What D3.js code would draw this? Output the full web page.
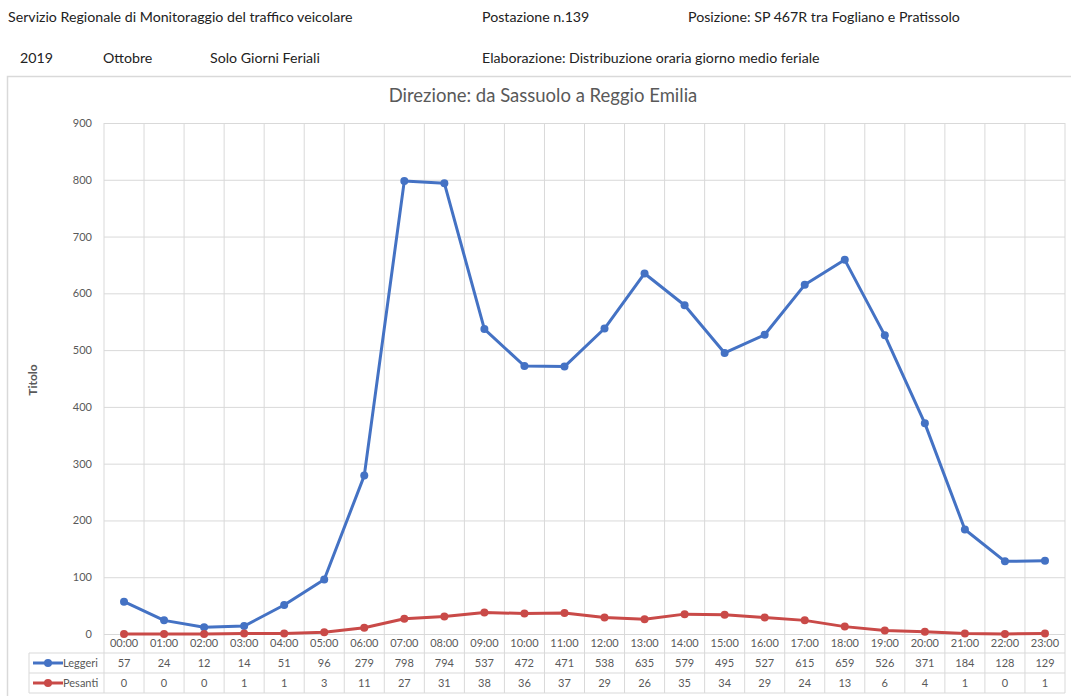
<!DOCTYPE html>
<html>
<head>
<meta charset="utf-8">
<script src="https://cdn.jsdelivr.net/npm/d3@7"></script>
<style>
  html, body { margin: 0; padding: 0; background: #ffffff; }
  svg { display: block; font-family: Lato, "Open Sans", sans-serif; }
</style>
</head>
<body>
<svg id="chart" width="1071" height="696"></svg>
<script>
// Hourly average weekday traffic, October 2019
const hours = ["00:00","01:00","02:00","03:00","04:00","05:00","06:00","07:00","08:00","09:00","10:00","11:00",
               "12:00","13:00","14:00","15:00","16:00","17:00","18:00","19:00","20:00","21:00","22:00","23:00"];
const leggeri = [57,24,12,14,51,96,279,798,794,537,472,471,538,635,579,495,527,615,659,526,371,184,128,129];
const pesanti = [0,0,0,1,1,3,11,27,31,38,36,37,29,26,35,34,29,24,13,6,4,1,0,1];
const yTicks = [0,100,200,300,400,500,600,700,800,900];

const seriesList = [
  { name: "Leggeri", values: leggeri, color: "#4472C4" },
  { name: "Pesanti", values: pesanti, color: "#C94A48" }
];

const svg = d3.select("#chart");
const textGrey = "#595959";
const gridGrey = "#d9d9d9";

// Page header lines
const header = [
  { t: "Servizio Regionale di Monitoraggio del traffico veicolare", x: 8, y: 22 },
  { t: "Postazione n.139", x: 482, y: 22 },
  { t: "Posizione: SP 467R tra Fogliano e Pratissolo", x: 688, y: 22 },
  { t: "2019", x: 20, y: 63 },
  { t: "Ottobre", x: 103, y: 63 },
  { t: "Solo Giorni Feriali", x: 210, y: 63 },
  { t: "Elaborazione: Distribuzione oraria giorno medio feriale", x: 482, y: 63 }
];
svg.append("g").selectAll("text").data(header).join("text")
  .attr("x", d => d.x).attr("y", d => d.y)
  .attr("font-size", 14.2).attr("fill", "#222")
  .text(d => d.t);

// Chart frame
svg.append("rect")
  .attr("x", 7.5).attr("y", 76.5).attr("width", 1080).attr("height", 640)
  .attr("fill", "none").attr("stroke", "#d9d9d9").attr("stroke-width", 1.5);

// Scales
const x = d3.scaleBand().domain(hours).range([104, 1065]).padding(0);
const y = d3.scaleLinear().domain([0, 900]).range([634, 123]);
const cx = h => x(h) + x.bandwidth() / 2;

// Title
svg.append("text")
  .attr("x", 543).attr("y", 102)
  .attr("text-anchor", "middle").attr("font-size", 18.5).attr("fill", textGrey)
  .text("Direzione: da Sassuolo a Reggio Emilia");

// Horizontal gridlines and y labels
const yAxis = d3.axisLeft(y).tickValues(yTicks).tickSize(-(1065 - 104)).tickPadding(12);
const gy = svg.append("g").attr("transform", "translate(104,0)").call(yAxis);
gy.select(".domain").remove();
gy.selectAll(".tick line").attr("stroke", gridGrey);
gy.selectAll(".tick text").attr("fill", textGrey).attr("font-size", 11)
  .attr("font-family", "Lato, 'Open Sans', sans-serif");

// Vertical gridlines (through category header row)
const tableTop = 653, rowH = 20, tableLeft = 29;
const bounds = hours.map(h => x(h)).concat([x.range()[1]]);
svg.append("g").selectAll("line").data(bounds).join("line")
  .attr("x1", d => d).attr("x2", d => d)
  .attr("y1", 123).attr("y2", tableTop + 2 * rowH)
  .attr("stroke", gridGrey);

// Category labels
svg.append("g").selectAll("text").data(hours).join("text")
  .attr("x", h => cx(h)).attr("y", 647)
  .attr("text-anchor", "middle").attr("font-size", 11).attr("fill", textGrey)
  .text(h => h);

// Axis title
svg.append("text")
  .attr("transform", "translate(37,380) rotate(-90)")
  .attr("text-anchor", "middle").attr("font-size", 12).attr("font-weight", "bold")
  .attr("fill", textGrey).text("Titolo");

// Data table grid
const tg = svg.append("g");
[tableTop, tableTop + rowH, tableTop + 2 * rowH].forEach(yy => {
  tg.append("line").attr("x1", tableLeft).attr("x2", 1065).attr("y1", yy).attr("y2", yy).attr("stroke", gridGrey);
});
tg.append("line").attr("x1", tableLeft).attr("x2", tableLeft)
  .attr("y1", tableTop).attr("y2", tableTop + 2 * rowH).attr("stroke", gridGrey);

// Lines and markers
const line = d3.line().x((d, i) => cx(hours[i])).y(d => y(d));
seriesList.forEach((s, si) => {
  svg.append("path").datum(s.values)
    .attr("d", line).attr("fill", "none")
    .attr("stroke", s.color).attr("stroke-width", 3).attr("stroke-linejoin", "round");
  svg.append("g").selectAll("circle").data(s.values).join("circle")
    .attr("cx", (d, i) => cx(hours[i])).attr("cy", d => y(d)).attr("r", 4)
    .attr("fill", s.color);

  // Table row: legend key + values
  const rowY = tableTop + si * rowH;
  const row = svg.append("g");
  row.append("line").attr("x1", 33).attr("x2", 63).attr("y1", rowY + rowH / 2).attr("y2", rowY + rowH / 2)
    .attr("stroke", s.color).attr("stroke-width", 3);
  row.append("circle").attr("cx", 48).attr("cy", rowY + rowH / 2).attr("r", 4).attr("fill", s.color);
  row.append("text").attr("x", 63).attr("y", rowY + 14).attr("font-size", 11).attr("fill", textGrey).text(s.name);
  row.selectAll("text.v").data(s.values).join("text").attr("class", "v")
    .attr("x", (d, i) => cx(hours[i])).attr("y", rowY + 14)
    .attr("text-anchor", "middle").attr("font-size", 11).attr("fill", textGrey)
    .text(d => d);
});
</script>
</body>
</html>
